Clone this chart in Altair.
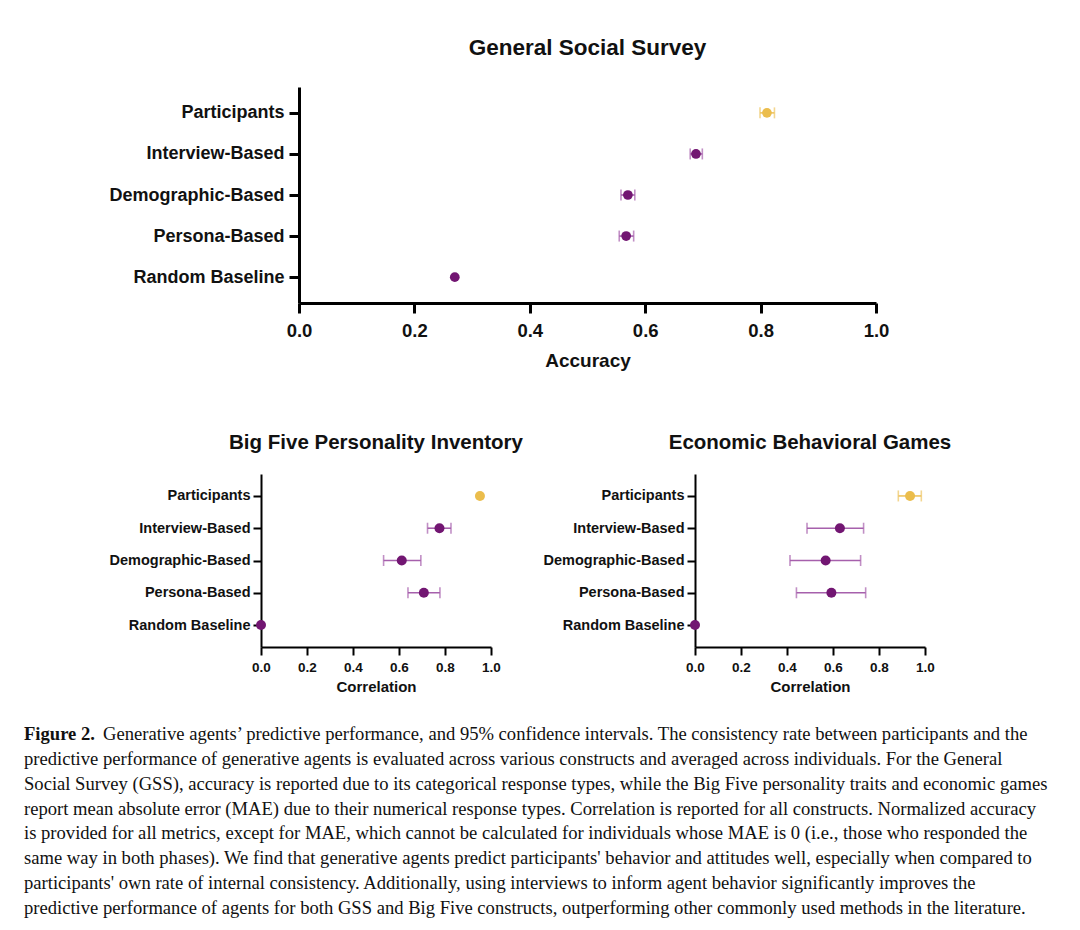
import altair as alt
import pandas as pd

# ---------------- data ----------------
categories = ["Participants", "Interview-Based", "Demographic-Based", "Persona-Based", "Random Baseline"]
groups = ["Participants", "Agent", "Agent", "Agent", "Agent"]

gss_mean = [0.811, 0.688, 0.570, 0.567, 0.270]
gss_lo = [0.799, 0.678, 0.558, 0.555, None]
gss_hi = [0.824, 0.699, 0.582, 0.580, None]

big5_mean = [0.952, 0.776, 0.612, 0.708, 0.0]
big5_lo = [None, 0.724, 0.533, 0.639, None]
big5_hi = [None, 0.826, 0.695, 0.778, None]

econ_mean = [0.935, 0.630, 0.568, 0.593, 0.0]
econ_lo = [0.884, 0.487, 0.413, 0.441, None]
econ_hi = [0.984, 0.733, 0.720, 0.742, None]

x_ticks = [0.0, 0.2, 0.4, 0.6, 0.8, 1.0]

caption_bold = "Figure 2."
caption_lines = [
    "Generative agents\u2019 predictive performance, and 95% confidence intervals. The consistency rate between participants and the",
    "predictive performance of generative agents is evaluated across various constructs and averaged across individuals. For the General",
    "Social Survey (GSS), accuracy is reported due to its categorical response types, while the Big Five personality traits and economic games",
    "report mean absolute error (MAE) due to their numerical response types. Correlation is reported for all constructs. Normalized accuracy",
    "is provided for all metrics, except for MAE, which cannot be calculated for individuals whose MAE is 0 (i.e., those who responded the",
    "same way in both phases). We find that generative agents predict participants' behavior and attitudes well, especially when compared to",
    "participants' own rate of internal consistency. Additionally, using interviews to inform agent behavior significantly improves the",
    "predictive performance of agents for both GSS and Big Five constructs, outperforming other commonly used methods in the literature.",
]

# ---------------- style ----------------
SANS = "Liberation Sans"
SERIF = "Liberation Serif"
PURPLE = "#721672"
PURPLE_LIGHT = "#A660AC"
GOLD = "#EBBD4C"
GOLD_LIGHT = "#EEC461"
GRP_DOMAIN = ["Participants", "Agent"]
CAP_FS = 18.6


def panel(mean, lo, hi, title, xtitle, w, h, pad, big):
    if big:
        lab_fs, tick_fs, title_fs, xt_fs = 18, 18.5, 22.5, 19
        dom_w, tick_sz, dot, cap = 3, 10, 95, 11
        title_off, lab_pad, xlab_pad, xt_pad = 28, 5, 8, 12
    else:
        lab_fs, tick_fs, title_fs, xt_fs = 14.5, 13.5, 20.5, 15
        dom_w, tick_sz, dot, cap = 2, 8, 100, 11
        title_off, lab_pad, xlab_pad, xt_pad = 21, 3, 5, 6

    df = pd.DataFrame({"cat": categories, "grp": groups, "mean": mean, "lo": lo, "hi": hi})

    yaxis = alt.Axis(
        title=None, labelFont=SANS, labelFontSize=lab_fs, labelFontWeight="bold",
        labelColor="#111111", labelPadding=lab_pad, tickSize=tick_sz, tickWidth=dom_w,
        tickColor="black", domainColor="black", domainWidth=dom_w, grid=False,
        labelLimit=400,
    )
    xaxis = alt.Axis(
        values=x_ticks, format=".1f", title=xtitle, titleFont=SANS, titleFontSize=xt_fs,
        titleFontWeight="bold", titleColor="#111111", titlePadding=xt_pad,
        labelFont=SANS, labelFontSize=tick_fs, labelFontWeight="bold", labelColor="#111111",
        labelPadding=xlab_pad, labelFlush=False, tickSize=tick_sz, tickWidth=dom_w,
        tickColor="black", domainColor="black", domainWidth=dom_w, grid=False,
    )
    yenc = alt.Y("cat:N", sort=categories, scale=alt.Scale(type="point", padding=pad), axis=yaxis)
    xscale = alt.Scale(domain=[0, 1], nice=False, zero=False)

    base = alt.Chart(df)
    err = base.transform_filter("isValid(datum.lo)")
    ecolor = alt.Color("grp:N", scale=alt.Scale(domain=GRP_DOMAIN, range=[GOLD_LIGHT, PURPLE_LIGHT]), legend=None)

    rules = err.mark_rule(strokeWidth=1.6).encode(
        x=alt.X("lo:Q", scale=xscale, axis=xaxis, title=xtitle),
        x2="hi:Q",
        y=yenc,
        color=ecolor,
    )
    caps = err.transform_fold(["lo", "hi"], as_=["end", "val"]).mark_tick(
        thickness=1.6, size=cap
    ).encode(
        x=alt.X("val:Q", scale=xscale, axis=xaxis, title=xtitle),
        y=yenc,
        color=ecolor,
    )
    dots = base.mark_circle(size=dot, opacity=1).encode(
        x=alt.X("mean:Q", scale=xscale, axis=xaxis, title=xtitle),
        y=yenc,
        color=alt.Color("grp:N", scale=alt.Scale(domain=GRP_DOMAIN, range=[GOLD, PURPLE]), legend=None),
    )
    return alt.layer(rules, caps, dots).resolve_scale(color="independent").properties(
        width=w, height=h,
        title=alt.TitleParams(
            text=title, font=SANS, fontSize=title_fs, fontWeight="bold", color="#111111",
            anchor="middle", frame="group", offset=title_off,
        ),
    )


def spacer(w, h=1):
    return alt.Chart(pd.DataFrame({"a": [0]})).mark_point(opacity=0, size=0).encode(
        x=alt.value(0), y=alt.value(0)
    ).properties(width=w, height=h)


top = panel(gss_mean, gss_lo, gss_hi, "General Social Survey", "Accuracy", 577, 216, 0.63, True)
left = panel(big5_mean, big5_lo, big5_hi, "Big Five Personality Inventory", "Correlation", 230, 173, 0.68, False)
right = panel(econ_mean, econ_lo, econ_hi, "Economic Behavioral Games", "Correlation", 230, 173, 0.68, False)

# caption
cap_df = pd.DataFrame({"i": list(range(len(caption_lines))), "line": caption_lines})
cap_y = alt.Y("i:O", axis=None, scale=alt.Scale(type="point", padding=0.5, domain=list(range(len(caption_lines)))))
cap_first = alt.Chart(cap_df).transform_filter("datum.i == 0").mark_text(
    align="left", baseline="middle", font=SERIF, fontSize=CAP_FS, color="#111111", dx=79
).encode(y=cap_y, x=alt.value(0), text="line:N")
cap_rest = alt.Chart(cap_df).transform_filter("datum.i > 0").mark_text(
    align="left", baseline="middle", font=SERIF, fontSize=CAP_FS, color="#111111"
).encode(y=cap_y, x=alt.value(0), text="line:N")
cap_bold = alt.Chart(pd.DataFrame({"i": [0], "line": [caption_bold]})).mark_text(
    align="left", baseline="middle", font=SERIF, fontSize=CAP_FS, fontWeight="bold", color="#111111"
).encode(y=cap_y, x=alt.value(0), text="line:N")
caption = alt.layer(cap_first, cap_rest, cap_bold).properties(width=1030, height=198)

row1 = alt.hconcat(spacer(84), top, spacing=0)
row2 = alt.hconcat(spacer(65), left, right, spacing=19)
charts = alt.vconcat(row1, row2, spacing=61)

chart = alt.vconcat(charts, caption, spacing=27).properties(
    padding={"left": 16, "top": 28, "right": 0, "bottom": 0}
).configure(background="white").configure_view(stroke=None)

chart.save("out.html", embed_options={"renderer": "svg", "actions": False})
